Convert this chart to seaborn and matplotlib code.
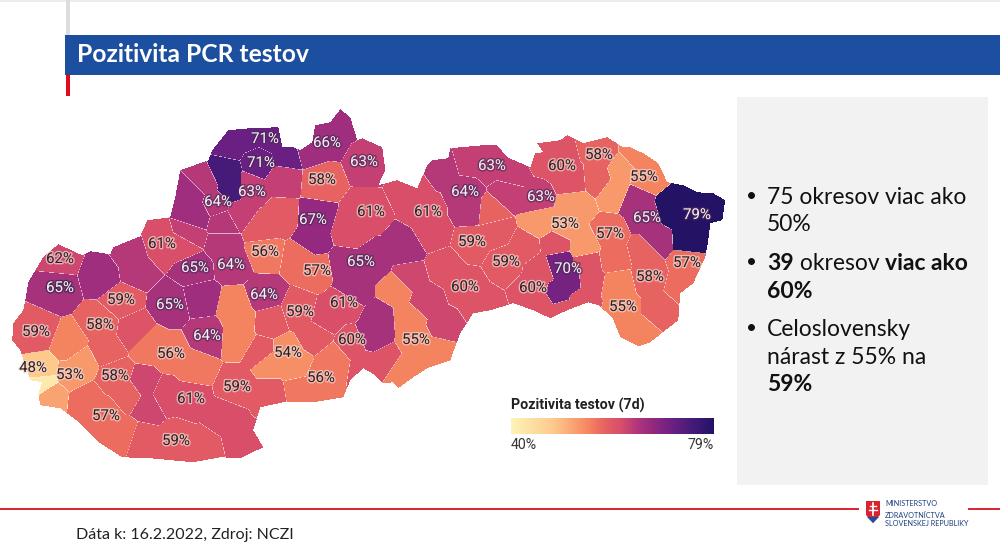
import numpy as np
import matplotlib
matplotlib.use("Agg")
import matplotlib.pyplot as plt
import matplotlib.patheffects as pe
from matplotlib.colors import LinearSegmentedColormap
from matplotlib.path import Path
from matplotlib.patches import Polygon, Rectangle
import seaborn as sns

district_values = [71, 71, 75, 63, 66, 63, 58, 66, 64, 64,
                   63, 59, 67, 61, 65, 64, 56, 57, 65, 61,
                   61, 64, 63, 58, 63, 60, 58, 53, 55, 79,
                   65, 57, 58, 57, 55, 53, 59, 59, 60, 70,
                   60, 62, 55, 65, 60, 56, 54, 59, 61, 64,
                   55, 64, 65, 66, 64, 66, 62, 65, 59, 58,
                   59, 55, 60, 56, 62, 58, 59, 61, 59, 57,
                   53, 48, 52, 42, 59]

# Sample points of each district on the map, nearest one decides the district
site_district = [0, 0, 0, 0, 1, 2, 2, 3, 3, 3,
                 4, 4, 4, 5, 5, 6, 7, 7, 8, 8,
                 9, 10, 11, 11, 12, 12, 13, 13, 14, 15,
                 15, 16, 17, 17, 18, 18, 18, 18, 19, 19,
                 20, 20, 20, 21, 21, 21, 22, 22, 22, 23,
                 24, 24, 25, 25, 25, 26, 26, 27, 27, 28,
                 28, 29, 29, 29, 29, 30, 30, 30, 31, 31,
                 32, 32, 32, 33, 33, 34, 34, 34, 35, 35,
                 35, 35, 36, 36, 37, 37, 38, 38, 38, 38,
                 39, 39, 39, 40, 40, 40, 41, 41, 41, 42,
                 42, 42, 42, 42, 43, 43, 44, 44, 44, 45,
                 45, 46, 46, 47, 47, 48, 48, 49, 50, 50,
                 50, 51, 52, 53, 54, 54, 55, 56, 57, 58,
                 59, 59, 60, 61, 62, 63, 63, 63, 64, 64,
                 65, 65, 66, 66, 66, 67, 67, 67, 67, 68,
                 68, 68, 69, 69, 69, 70, 70, 71, 72, 73,
                 74, 38, 38, 38, 38, 46, 45]
site_x = [228, 250, 272, 285, 261, 222, 232, 250, 282, 240,
          328, 342, 312, 366, 380, 322, 190, 197, 205, 216,
          222, 190, 280, 262, 316, 312, 162, 185, 195, 232,
          222, 265, 316, 300, 345, 372, 405, 352, 365, 350,
          425, 412, 432, 465, 442, 470, 490, 512, 470, 490,
          508, 535, 560, 545, 572, 600, 597, 621, 615, 645,
          637, 695, 672, 690, 712, 645, 655, 635, 687, 682,
          650, 660, 645, 610, 613, 617, 622, 640, 565, 540,
          585, 575, 472, 495, 506, 525, 533, 555, 590, 560,
          558, 570, 557, 465, 445, 480, 425, 410, 445, 417,
          398, 408, 440, 400, 380, 372, 352, 385, 365, 320,
          300, 285, 270, 300, 315, 344, 325, 263, 240, 235,
          238, 207, 170, 202, 135, 130, 103, 58, 55, 122,
          100, 105, 36, 70, 135, 171, 150, 195, 144, 147,
          115, 130, 237, 262, 270, 190, 165, 225, 240, 176,
          140, 205, 105, 85, 125, 72, 82, 42, 52, 43,
          270, 540, 588, 545, 582, 295, 335]
site_y = [143, 135, 140, 157, 162, 172, 190, 190, 177, 212,
          140, 122, 150, 162, 155, 180, 195, 215, 180, 205,
          222, 236, 218, 228, 220, 240, 245, 245, 268, 265,
          245, 252, 270, 258, 265, 262, 248, 290, 212, 230,
          212, 190, 232, 193, 168, 210, 165, 175, 160, 212,
          192, 198, 165, 158, 180, 155, 178, 170, 192, 177,
          155, 215, 210, 238, 207, 218, 240, 200, 265, 285,
          277, 310, 250, 234, 258, 285, 310, 333, 225, 222,
          247, 205, 242, 232, 262, 248, 288, 245, 280, 308,
          262, 282, 297, 287, 268, 305, 300, 278, 328, 342,
          290, 318, 350, 372, 320, 337, 345, 362, 365, 378,
          390, 352, 362, 312, 335, 303, 318, 295, 320, 305,
          338, 336, 305, 298, 270, 255, 275, 258, 288, 300,
          325, 350, 332, 345, 330, 354, 345, 368, 385, 405,
          376, 395, 387, 352, 395, 398, 395, 418, 440, 441,
          440, 448, 416, 400, 435, 375, 362, 371, 396, 382,
          322, 268, 262, 305, 300, 366, 360]

# Country outline on the map
outline_x = [12, 13, 23, 25, 28, 43, 58, 82, 90, 110, 113, 140, 147, 170, 175, 180, 208, 212,
             228, 250, 278, 282, 293, 300, 312, 315, 330, 340, 350, 357, 362, 382, 385, 378,
             397, 417, 427, 432, 448, 450, 460, 483, 497, 507, 530, 535, 543, 537, 560, 567,
             583, 607, 623, 630, 643, 658, 667, 683, 697, 713, 725, 722, 710, 708, 705, 693,
             680, 678, 650, 638, 620, 612, 598, 588, 567, 550, 533, 513, 490, 473, 460, 450,
             427, 413, 398, 393, 383, 375, 363, 350, 343, 313, 283, 260, 253, 263, 240, 220,
             193, 150, 122, 100, 80, 60, 40, 38, 42, 30, 26, 20]
outline_y = [340, 323, 310, 300, 282, 257, 244, 255, 251, 254, 247, 236, 220, 217, 197, 170, 160, 150,
             130, 128, 127, 147, 147, 150, 142, 125, 122, 109, 117, 140, 138, 147, 170, 185,
             180, 188, 165, 160, 158, 148, 147, 145, 145, 157, 167, 153, 152, 143, 140, 135,
             143, 137, 147, 147, 153, 163, 182, 185, 192, 193, 200, 220, 223, 240, 257, 283,
             293, 320, 342, 346, 337, 317, 305, 302, 310, 318, 310, 303, 310, 313, 333, 360,
             368, 377, 388, 382, 383, 375, 368, 380, 397, 402, 402, 407, 430, 447, 458, 457,
             462, 458, 457, 443, 423, 408, 405, 393, 382, 380, 368, 350]

# District labels
label_values = [71, 71, 66, 63, 58, 64, 63, 67, 61, 65, 64, 56, 57, 65, 61, 61, 64, 63, 63,
                60, 58, 55, 79, 65, 53, 57, 57, 58, 55, 59, 59, 60, 70, 60, 55, 65, 60, 56,
                54, 59, 61, 64, 64, 65, 62, 65, 59, 58, 59, 56, 58, 53, 48, 59, 61, 59, 57]
label_x = [265, 261, 327, 364, 322, 218, 252, 313, 162, 195, 231, 265, 317, 361, 371, 428, 465, 492, 541,
           562, 599, 644, 697, 647, 565, 610, 687, 650, 623, 472, 506, 465, 568, 533, 416, 170, 352, 321,
           288, 300, 344, 264, 207, 60, 60, 60, 121, 100, 36, 171, 115, 70, 33, 237, 191, 176, 106]
label_y = [139, 163, 143, 162, 180, 202, 192, 220, 244, 268, 265, 252, 271, 262, 212, 212, 192, 166, 197,
           166, 155, 177, 215, 218, 224, 234, 263, 277, 307, 242, 262, 287, 269, 288, 340, 305, 340, 378,
           353, 312, 303, 295, 336, 288, 259, 288, 300, 325, 332, 354, 376, 375, 368, 387, 399, 441, 416]

legend_ticks = [40, 79]
bullets = [
  [[("75 okresov viac ako", False)], [("50%", False)]],
  [[("39", True), (" okresov ", False), ("viac ako", True)], [("60%", True)]],
  [[("Celoslovensky", False)], [("nárast z 55% na", False)], [("59%", True)]],
]

stop_values = [40, 48, 53, 55, 57, 59, 61, 63, 65, 67, 71, 75, 79]
stop_colors = ["#fdf3b8", "#fdca8c", "#f8996b", "#f4835f", "#ec6c60", "#e25a64", "#d94f6a",
               "#c23f74", "#a8327c", "#95297f", "#6a2082", "#451a78", "#241265"]
pos_cmap = LinearSegmentedColormap.from_list(
  "pozitivita", [((v - stop_values[0]) / (stop_values[-1] - stop_values[0]), c) for v, c in zip(stop_values, stop_colors)]
)

plt.rcParams["font.family"] = ["Lato", "DejaVu Sans"]
fig = plt.figure(figsize=(10, 5.57), dpi=100)

# Map window in page pixels
map_left, map_right, map_top, map_bottom = 0, 740, 100, 470
step = 0.5
grid_x, grid_y = np.meshgrid(np.arange(map_left, map_right, step) + step / 2,
                             np.arange(map_top, map_bottom, step) + step / 2)

def assign_districts():
  sx = np.array(site_x, dtype=float)[:, None, None]
  sy = np.array(site_y, dtype=float)[:, None, None]
  nearest = ((grid_x - sx) ** 2 + (grid_y - sy) ** 2).argmin(axis=0)
  return np.array(site_district)[nearest]

def district_borders(ids):
  edge = np.zeros(ids.shape, dtype=bool)
  edge[:-1, :] |= ids[:-1, :] != ids[1:, :]
  edge[:, :-1] |= ids[:, :-1] != ids[:, 1:]
  return edge

ids = assign_districts()
points = np.column_stack([grid_x.ravel(), grid_y.ravel()])
inside = Path(np.column_stack([outline_x, outline_y])).contains_points(points).reshape(grid_x.shape)
grid_values = np.array(district_values, dtype=float)[ids]
borders = district_borders(ids) & inside

ax_map = fig.add_axes([map_left / 1000, 1 - map_bottom / 557, (map_right - map_left) / 1000, (map_bottom - map_top) / 557])
ax_legend = fig.add_axes([511 / 1000, 1 - 434 / 557, 203 / 1000, 16 / 557])
sns.heatmap(grid_values, mask=~inside, cmap=pos_cmap, vmin=legend_ticks[0], vmax=legend_ticks[1],
            ax=ax_map, cbar_ax=ax_legend, cbar_kws={"orientation": "horizontal", "ticks": legend_ticks},
            xticklabels=False, yticklabels=False)
sns.heatmap(np.ones(grid_values.shape), mask=~borders, cmap=["#ffffff"], alpha=0.6, cbar=False,
            ax=ax_map, xticklabels=False, yticklabels=False)
ax_map.set_axis_off()

ax_legend.set_xticklabels([f"{t}%" for t in legend_ticks], fontfamily="Roboto", fontsize=10.2, color="#333333")
ax_legend.tick_params(length=0, pad=3)
for tick, ha in zip(ax_legend.get_xticklabels(), ["left", "right"]):
  tick.set_ha(ha)
for spine in ax_legend.spines.values():
  spine.set_visible(False)

# Page furniture in page pixels
ax = fig.add_axes([0, 0, 1, 1], zorder=5)
ax.set_xlim(0, 1000)
ax.set_ylim(557, 0)
ax.set_axis_off()
ax.patch.set_alpha(0)

ax.add_patch(Rectangle((0, 0), 1000, 1.5, color="#ececec", lw=0))
ax.add_patch(Rectangle((66, 0), 4, 35, color="#dddddd", lw=0))
ax.add_patch(Rectangle((65, 35), 935, 40, color="#1c4f9f", lw=0))
ax.add_patch(Rectangle((66, 75), 4, 21, color="#e2091d", lw=0))
ax.text(77, 54.5, "Pozitivita PCR testov", color="white", fontsize=17.7, fontweight="bold", va="center")

ax.add_patch(Rectangle((737, 97), 251, 388, color="#f2f2f2", lw=0))

# Labels on the map
for val, x, y in zip(label_values, label_x, label_y):
  light = val >= 63
  ax.text(x, y, f"{val}%", ha="center", va="center", fontsize=10.8, fontfamily="Roboto",
          color="#f4eef2" if light else "#2b2226",
          path_effects=[pe.withStroke(linewidth=2, foreground="#4a2a55" if light else "#f6d9d2", alpha=0.7)])

ax.text(511, 405, "Pozitivita testov (7d)", fontsize=10.3, fontweight="bold", fontfamily="Roboto",
        color="#222222", va="center")

# Bullets, bold and regular runs placed one after the other
fig.canvas.draw()
renderer = fig.canvas.get_renderer()

def draw_runs(x, y, runs):
  for run, bold in runs:
    t = ax.text(x, y, run.replace(" ", "\u00a0"), fontsize=16.5, va="baseline", color="#111111",
                fontweight="bold" if bold else "normal")
    x += t.get_window_extent(renderer).width

line_y = [204, 231, 270, 298, 336, 364, 391]
i = 0
for bullet in bullets:
  ax.text(752, line_y[i] - 2, "•", fontsize=13.5, ha="center", va="baseline", color="#111111")
  for runs in bullet:
    draw_runs(767, line_y[i], runs)
    i += 1

# Footer
ax.plot([0, 858], [509, 509], color="#d8232f", lw=1.4)
ax.plot([969, 1000], [509, 509], color="#d8232f", lw=1.4)
ax.text(76, 535, "Dáta k: 16.2.2022, Zdroj: NCZI", fontsize=11.5, color="#222222", va="center")

ax.add_patch(Polygon([(866, 501), (880, 501), (880, 515), (873, 523), (866, 515)], color="#d8232f", lw=0))
ax.add_patch(Polygon([(867, 517), (879, 517), (873, 523)], color="#1c4f9f", lw=0))
ax.plot([873, 873], [503, 515], color="white", lw=1.2)
ax.plot([870, 876], [506, 506], color="white", lw=1)
ax.plot([869, 877], [510, 510], color="white", lw=1)
ax.text(885, 504, "MINISTERSTVO", fontsize=5.2, color="#1c3f80", va="center")
ax.text(885, 516, "ZDRAVOTNÍCTVA", fontsize=5.2, color="#1c3f80", va="center")
ax.text(885, 523, "SLOVENSKEJ REPUBLIKY", fontsize=5.2, color="#1c3f80", va="center")

fig.savefig("out.png", dpi=100)
